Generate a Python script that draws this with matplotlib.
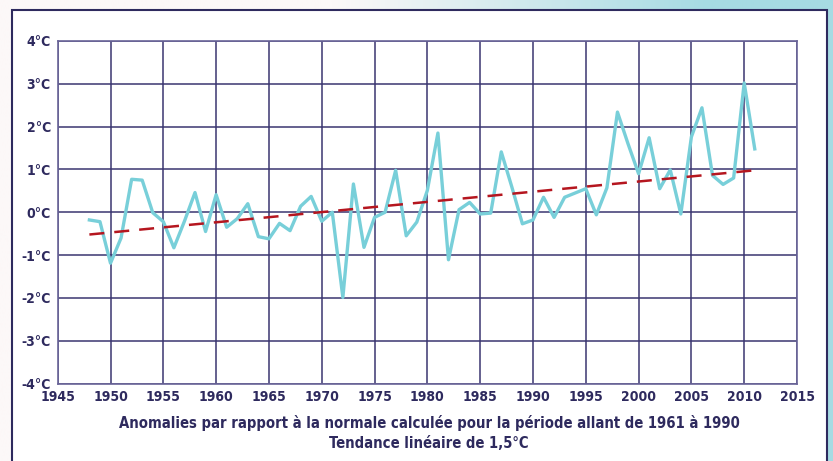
import numpy as np
import matplotlib
matplotlib.use("Agg")
import matplotlib.pyplot as plt
from matplotlib.patches import Rectangle
from matplotlib.colors import to_rgb
from matplotlib import font_manager as fm

# ---- data ----
years = list(range(1948, 2012))
anomalies = [-0.18, -0.22, -1.19, -0.60, 0.77, 0.75, -0.01, -0.22, -0.83, -0.21,
             0.46, -0.45, 0.41, -0.35, -0.15, 0.20, -0.57, -0.62, -0.26, -0.43,
             0.14, 0.37, -0.21, 0.00, -1.99, 0.66, -0.82, -0.12, 0.00, 0.98,
             -0.55, -0.23, 0.51, 1.85, -1.11, 0.06, 0.23, -0.04, -0.02, 1.41,
             0.59, -0.27, -0.18, 0.35, -0.12, 0.35, 0.45, 0.55, -0.06, 0.57,
             2.34, 1.60, 0.90, 1.74, 0.55, 0.99, -0.04, 1.76, 2.44, 0.86,
             0.65, 0.80, 3.02, 1.48]
trend_years = [1948, 2011]
trend_values = [-0.52, 0.98]
x_ticks = list(range(1945, 2016, 5))
y_ticks = [-4, -3, -2, -1, 0, 1, 2, 3, 4]
y_labels = ["-4°C", "-3°C", "-2°C", "-1°C", "0°C", "1°C", "2°C", "3°C", "4°C"]
caption = ["Anomalies par rapport à la normale calculée pour la période allant de 1961 à 1990",
           "Tendance linéaire de 1,5°C"]

NAVY = "#2e2a5e"
# prefer a condensed bold face if one is installed
cond = None
for f in fm.fontManager.ttflist:
    if "DejaVu Sans" == f.name and "Condensed" in f.fname and "Bold" in f.fname and "Oblique" not in f.fname:
        cond = f.fname
        break
if cond:
    FP = dict(fontproperties=fm.FontProperties(fname=cond))
else:
    FP = dict(family="DejaVu Sans", fontweight="bold", fontstretch="condensed")

W, H = 833, 461
fig = plt.figure(figsize=(W / 100, H / 100), dpi=100)

# background with gradient and white frame
bg = fig.add_axes([0, 0, 1, 1], zorder=-10)
bg.set_xlim(0, W)
bg.set_ylim(H, 0)
bg.axis("off")
c0 = np.array(to_rgb("#fcf8f8"))
c1 = np.array(to_rgb("#a6dbe3"))
xs = np.linspace(0, 1, 400)
t = np.clip((xs - 0.4) / 0.45, 0, 1)
grad = c0[None, :] * (1 - t[:, None]) + c1[None, :] * t[:, None]
bg.imshow(grad[None, :, :], extent=[0, W, H, 0], aspect="auto")
bg.add_patch(Rectangle((827, 0), 10, H, facecolor="#a6dbe3", edgecolor="none"))
bg.add_patch(Rectangle((12.5, 9.7), 814.8, 470, facecolor="white",
                       edgecolor=NAVY, linewidth=1.5))

# main axes
left, right, top, bottom = 57.7, 797.0, 41.0, 383.5
ax = fig.add_axes([left / W, 1 - bottom / H, (right - left) / W, (bottom - top) / H])
ax.set_facecolor("white")
ax.set_xlim(1945, 2015)
ax.set_ylim(-4, 4)
ax.set_xticks(x_ticks)
ax.set_yticks(y_ticks)
ax.set_xticklabels([str(v) for v in x_ticks], color=NAVY, fontsize=10, **FP)
ax.set_yticklabels(y_labels, color=NAVY, fontsize=10, **FP)
ax.grid(True, color="#3a3570", linewidth=1.1)
ax.set_axisbelow(True)
for s in ax.spines.values():
    s.set_color("#6a6598")
    s.set_linewidth(1.2)
ax.tick_params(length=0, pad=5)

ax.plot(years, anomalies, color="#78cfd9", linewidth=2.4, zorder=3)
ax.plot(trend_years, trend_values, color="#b5161f", linewidth=1.8,
        linestyle=(0, (6, 4)), zorder=4)

cx = (120 + 738) / 2 / W
fig.text(cx, 1 - 423 / H, caption[0], ha="center", va="center",
         fontsize=10.6, color=NAVY, **FP)
fig.text(cx, 1 - 443 / H, caption[1], ha="center", va="center",
         fontsize=10.6, color=NAVY, **FP)

fig.savefig("out.png", dpi=100)
